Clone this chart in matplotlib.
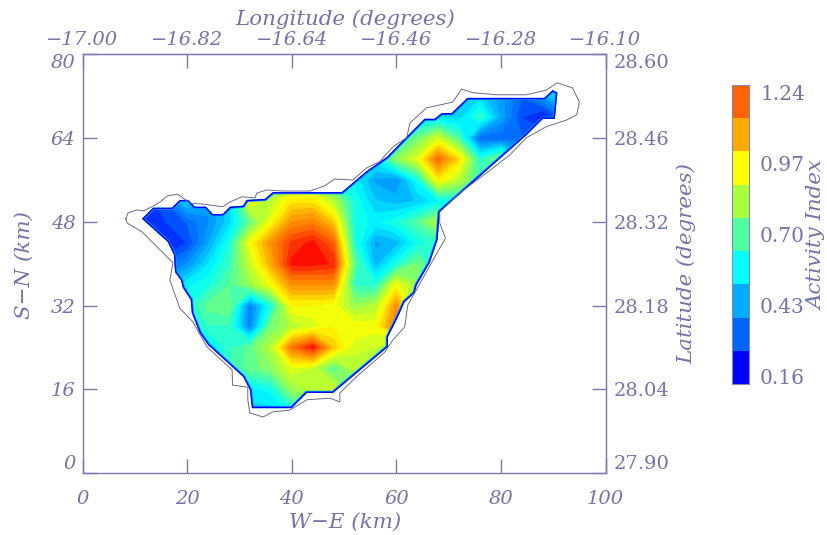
import numpy as np
import matplotlib
matplotlib.use("Agg")
import matplotlib.pyplot as plt
from matplotlib.colors import LinearSegmentedColormap, ListedColormap
from matplotlib.patches import Polygon

# ---- data -------------------------------------------------------------
grid_x = [8,12,16,20,24,28,32,36,40,44,48,52,56,60,64,68,72,76,80,84,88,92]
grid_y = [76,72,68,64,60,56,52,48,44,40,36,32,28,24,20,16,12,8]
row_76 = [.40,.40,.40,.40,.40,.40,.40,.40,.40,.40,.40,.40,.45,.45,.45,.45,.45,.50,.40,.30,.40,.60]
row_72 = [.40,.40,.40,.40,.40,.40,.40,.40,.40,.40,.40,.40,.45,.45,.45,.45,.45,.50,.40,.30,.40,.60]
row_68 = [.40,.40,.40,.40,.40,.40,.40,.40,.40,.40,.45,.50,.50,.50,.50,.52,.50,.64,.42,.25,.18,.30]
row_64 = [.40,.40,.40,.40,.40,.40,.40,.40,.40,.45,.50,.50,.55,.60,.74,.90,.68,.30,.30,.30,.30,.30]
row_60 = [.40,.40,.40,.40,.40,.50,.60,.60,.60,.55,.50,.50,.55,.78,.92,1.22,1.02,.62,.78,.50,.40,.40]
row_56 = [.30,.30,.40,.50,.50,.60,.70,.70,.80,.75,.60,.55,.42,.38,.58,.98,.85,.68,.55,.50,.40,.40]
row_52 = [.20,.20,.30,.50,.40,.50,.95,.85,1.00,1.00,.85,.60,.48,.45,.48,.55,.60,.60,.50,.40,.40,.40]
row_48 = [.20,.20,.25,.30,.38,.50,.72,.95,1.15,1.18,1.05,.60,.55,.60,.70,.85,.60,.50,.50,.40,.40,.40]
row_44 = [.20,.20,.18,.25,.42,.60,.95,1.15,1.30,1.35,1.24,.62,.42,.45,.58,.65,.60,.50,.50,.40,.40,.40]
row_40 = [.30,.30,.30,.38,.52,.65,.88,1.10,1.35,1.35,1.33,.72,.45,.60,.75,.60,.60,.50,.50,.40,.40,.40]
row_36 = [.50,.50,.50,.55,.60,.70,.80,.95,1.15,1.15,1.15,.65,.62,.95,.80,.60,.50,.50,.50,.40,.40,.40]
row_32 = [.60,.60,.60,.60,.72,.75,.35,.60,.97,.97,.95,.80,.85,1.15,.80,.50,.50,.50,.50,.40,.40,.40]
row_28 = [.60,.60,.60,.60,.65,.65,.35,.75,.85,.90,.97,.97,.95,1.20,.70,.50,.50,.50,.50,.40,.40,.40]
row_24 = [.50,.50,.50,.50,.50,.65,.72,.85,1.20,1.35,1.05,.90,.88,.70,.60,.50,.50,.50,.50,.40,.40,.40]
row_20 = [.50,.50,.50,.50,.50,.65,.72,.78,.92,.88,.70,.85,.70,.60,.50,.50,.50,.50,.50,.40,.40,.40]
row_16 = [.50,.50,.50,.50,.50,.55,.55,.58,.80,.85,.90,.70,.60,.50,.50,.50,.50,.50,.50,.40,.40,.40]
row_12 = [.50,.50,.50,.50,.50,.50,.50,.50,.60,.70,.60,.60,.50,.50,.50,.50,.50,.50,.50,.40,.40,.40]
row_8  = [.50,.50,.50,.50,.50,.50,.50,.50,.60,.70,.60,.60,.50,.50,.50,.50,.50,.50,.50,.40,.40,.40]
activity_rows = [row_76,row_72,row_68,row_64,row_60,row_56,row_52,row_48,row_44,
                 row_40,row_36,row_32,row_28,row_24,row_20,row_16,row_12,row_8]

region_x = [11.4,13.5,17.1,18.6,20.2,21.5,23.6,24.9,26.8,28.2,30.7,31.4,34.9,36.4,49.6,54.2,58.2,63.1,65.4,67.3,
            68.7,70.6,73.6,88.3,89.9,90.8,90.3,88.0,84.9,68.3,67.9,66.4,63.9,63.5,61.6,60.3,58.4,58.4,47.9,42.9,
            40.0,32.4,32.0,30.7,24.0,22.4,20.9,20.7,19.2,18.8,17.7,17.5,16.3]
region_y = [48.6,50.7,50.7,52.2,52.2,50.9,50.9,49.5,49.5,50.9,51.1,52.2,52.4,53.7,53.7,57.6,60.4,65.4,67.7,67.7,
            68.8,68.8,71.7,71.7,73.2,72.7,67.7,67.7,64.6,49.9,44.6,40.2,35.9,34.4,32.7,29.8,26.0,24.1,15.3,15.3,
            12.4,12.4,15.9,18.4,24.5,26.8,30.6,33.1,35.4,36.9,38.4,41.7,44.2]

coast_x = [8.3,8.7,10.4,11.6,13.3,14.8,16.3,18.2,19.2,20.5,23.0,26.8,28.2,30.5,33.0,33.3,35.2,38.3,43.5,46.3,48.2,
           51.7,54.3,56.8,59.3,62.0,62.6,65.8,70.8,72.5,74.6,79.2,84.9,88.7,90.8,93.7,95.0,94.5,92.6,88.7,84.9,
           81.7,77.3,72.1,68.3,68.3,69.4,66.8,62.2,61.6,59.3,57.8,52.4,49.2,49.2,47.3,42.9,39.6,36.4,34.5,32.0,
           31.6,31.6,28.7,28.6,23.8,21.1,18.6,16.7,17.3,13.5,11.4,8.5,8.3]
coast_y = [48.6,49.7,50.3,50.1,50.9,51.8,53.0,53.3,52.6,51.6,51.4,50.9,51.8,52.8,52.6,53.5,54.1,53.9,53.9,54.9,56.2,
           56.0,58.3,59.5,62.3,64.1,66.9,69.8,70.9,73.4,72.7,72.3,72.3,73.2,74.6,73.6,70.9,68.5,67.5,66.2,64.1,
           60.8,57.4,53.5,49.9,47.8,44.9,40.3,32.1,27.9,25.4,23.1,18.4,15.3,13.6,14.3,14.0,12.0,11.7,10.7,11.5,
           14.0,16.4,16.8,19.7,24.1,28.9,31.5,36.9,40.2,44.0,46.1,47.8,48.6]

x_ticks = [0,20,40,60,80,100]
y_ticks = [0,16,32,48,64,80]
lon_labels = ["\u221217.00","\u221216.82","\u221216.64","\u221216.46","\u221216.28","\u221216.10"]
lat_labels = ["27.90","28.04","28.18","28.32","28.46","28.60"]
cbar_ticks = [0.16,0.43,0.70,0.97,1.24]
cbar_labels = ["0.16","0.43","0.70","0.97","1.24"]
cbar_colors = ["#0000ff","#0064ff","#00aaff","#00ffff","#50ffa0","#aaff3c","#ffff00","#ffaa00","#ff6400"]
cmap_anchors = [0.16,0.295,0.43,0.565,0.70,0.835,0.97,1.105,1.24,1.38]
cmap_colors = cbar_colors + ["#ff0000"]

# ---- style ------------------------------------------------------------
INK = "#7474a8"
LINE = "#7c7caa"
plt.rcParams["font.family"] = ["DejaVu Serif"]
W, H = 827, 535
fig = plt.figure(figsize=(W/100, H/100), dpi=100, facecolor="white")
ax = fig.add_axes([82.5/W, (H-473)/H, 523/W, 418.5/H])

a0, a1 = cmap_anchors[0], cmap_anchors[-1]
cmap = LinearSegmentedColormap.from_list(
    "activity", [((v-a0)/(a1-a0), c) for v, c in zip(cmap_anchors, cmap_colors)])

X, Y = np.meshgrid(grid_x, grid_y)
Z = np.array(activity_rows)
cs = ax.contourf(X, Y, Z, levels=np.linspace(a0, a1, 28), cmap=cmap, extend="both")
clip = Polygon(np.c_[region_x, region_y], closed=True, transform=ax.transData, fc="none", ec="none")
ax.add_patch(clip)
cs.set_clip_path(clip)
ax.fill(region_x, region_y, fc="none", ec="#00a0ff", lw=3.2, zorder=3, joinstyle="round", clip_path=clip)
ax.fill(region_x, region_y, fc="none", ec="#0000ff", lw=2.0, zorder=3, joinstyle="round", clip_path=clip)
ax.plot(coast_x, coast_y, color="#6a6a90", lw=0.7, zorder=4)

ax.set_xlim(0, 100); ax.set_ylim(0, 80)
fs = 14
fl = 15.4
tick_kw = dict(direction="in", length=10, width=1, color=LINE, labelcolor=INK, labelsize=fs)
ax.set_xticks(x_ticks); ax.set_yticks(y_ticks)
ax.tick_params(axis="both", **tick_kw)
ax.tick_params(axis="x", pad=12)
ax.tick_params(axis="y", pad=5)
for lab in ax.get_xticklabels() + ax.get_yticklabels():
    lab.set_style("italic")
yl = ax.get_yticklabels()
yl[0].set_va("bottom"); yl[-1].set_va("top")
for s in ax.spines.values():
    s.set_color(LINE); s.set_linewidth(1)

top = ax.secondary_xaxis("top")
top.set_xticks(x_ticks, lon_labels)
top.tick_params(axis="x", pad=4, **tick_kw)
top.spines["top"].set_color(LINE)
for lab in top.get_xticklabels():
    lab.set_style("italic")
right = ax.secondary_yaxis("right")
right.set_yticks(y_ticks, lat_labels)
right.tick_params(axis="y", pad=6, **tick_kw)
right.spines["right"].set_color(LINE)
rl = right.get_yticklabels()
rl[0].set_va("bottom"); rl[-1].set_va("top")

def label(px, py, s, rot=0, size=fl):
    fig.text(px/W, 1-py/H, s, rotation=rot, ha="center", va="center",
             color=INK, fontsize=size, style="italic")

label(345, 522, "W\u2212E (km)")
label(345, 19, "Longitude (degrees)")
label(24, 265, "S\u2212N (km)", 90)
label(686, 264, "Latitude (degrees)", 90)

# ---- colour bar -------------------------------------------------------
cax = fig.add_axes([732/W, (H-384)/H, 17/W, 299/H])
bot, topv = 0.13, 1.267
edges = np.linspace(bot, topv, len(cbar_colors)+1)
cax.pcolormesh([0, 1], edges, np.arange(len(cbar_colors)).reshape(-1, 1),
               cmap=ListedColormap(cbar_colors), shading="flat")
cax.set_xticks([])
cax.yaxis.tick_right()
cax.set_yticks(cbar_ticks, cbar_labels)
cax.tick_params(axis="y", length=0, pad=8, labelcolor=INK, labelsize=14.5)
for s in cax.spines.values():
    s.set_color("#8888aa"); s.set_linewidth(0.8)
label(817, 235, "Activity Index", 90)

fig.savefig("out.png", dpi=100)
